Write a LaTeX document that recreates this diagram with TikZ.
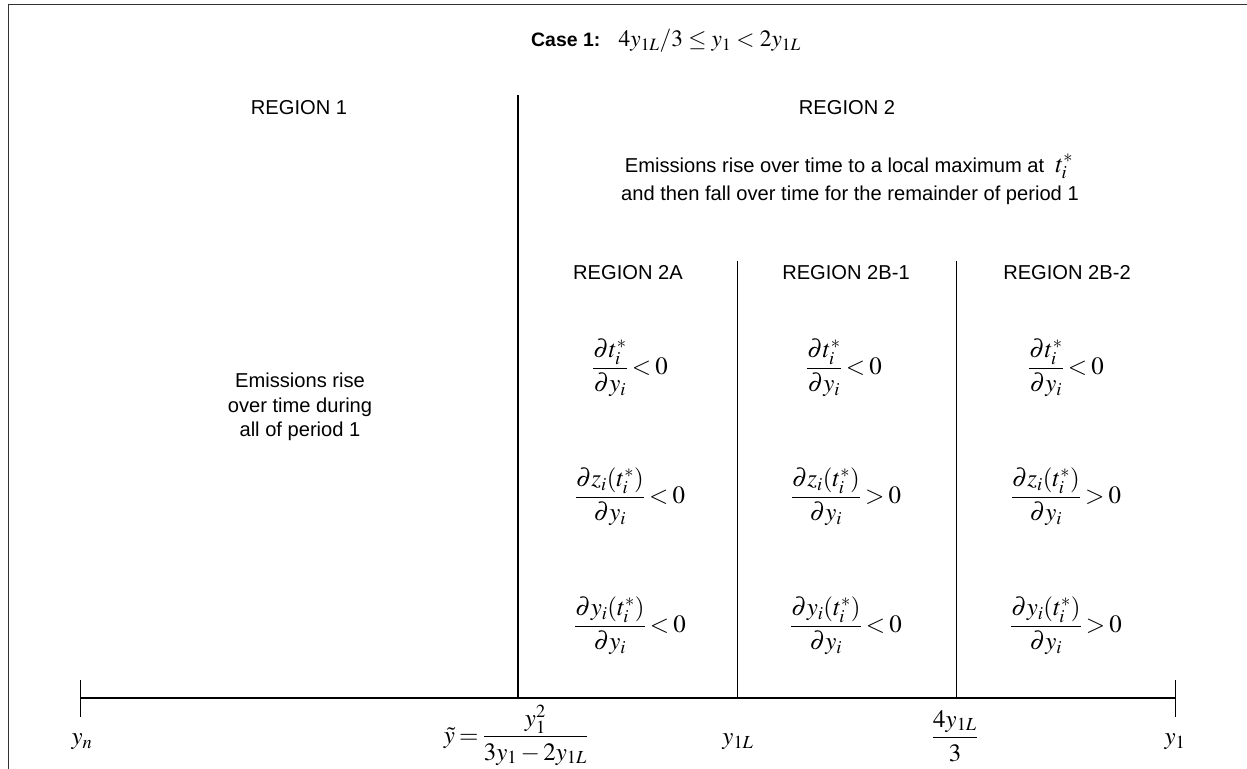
\documentclass[tikz,border=0pt]{standalone}
\usepackage{amsmath}
\usepackage{mathptmx}
\usepackage[no-math]{fontspec}
\setmainfont{Liberation Sans}
\newcommand\mfs{\fontsize{25}{30}\selectfont\thickmuskip=3mu plus 1mu}
\newcommand\tfs{\fontsize{23.5}{28}\selectfont}
\tikzset{
  txt/.style={font=\fontsize{20.2}{24.5}\selectfont, inner sep=0pt, align=center},
  mth/.style={font=\mfs, inner sep=0pt},
  frameline/.style={line width=1.6pt, draw=black!80},
  thickline/.style={line width=2pt},
  thinline/.style={line width=0.9pt},
}
\begin{document}
\begin{tikzpicture}[x=1bp,y=-1bp]
\useasboundingbox (0,0) rectangle (1247,769);
% frame
\coordinate (fbl) at (8.3,769);
\coordinate (ftl) at (8.3,4.7);
\coordinate (ftr) at (1247,4.7);
\draw[frameline] (fbl) -- (ftl) -- (ftr);
% title
\node[inner sep=0pt, font=\fontsize{19.5}{23}\selectfont\bfseries, anchor=base west] (case) at (531,47) {Case 1:};
\node[inner sep=0pt, font=\tfs, anchor=base west] (cond) at ([xshift=18bp]case.base east) {$4y_{1L}/3 \le y_1 < 2y_{1L}$};
% regions
\node[txt, anchor=base] (r1) at (299,115) {REGION 1};
\node[txt, anchor=base] (r2) at (847,115) {REGION 2};
\node[txt, anchor=base] (r2txta) at (849,172) {Emissions rise over time to a local maximum at~ {\mfs$t_i^*$}};
\node[txt, anchor=base] (r2txtb) at (850,200) {and then fall over time for the remainder of period 1};
\node[txt] (r1txt) at (300,407) {Emissions rise\\over time during\\all of period 1};
\node[txt, anchor=base] (r2a) at (628,279) {REGION 2A};
\node[txt, anchor=base] (r2b1) at (846,279) {REGION 2B-1};
\node[txt, anchor=base] (r2b2) at (1067,279) {REGION 2B-2};
% axis
\coordinate (axL) at (80,698);
\coordinate (axR) at (1175,698);
\coordinate (tLt) at (80,680);
\coordinate (tLb) at (80,717);
\coordinate (tRt) at (1175,680);
\coordinate (tRb) at (1175,717);
\draw[thickline] (axL) -- (axR);
\draw[thinline] (tLt) -- (tLb);
\draw[thinline] (tRt) -- (tRb);
\coordinate (v1t) at (518,95);
\coordinate (v1b) at (518,698);
\draw[thickline] (v1t) -- (v1b);
\coordinate (v2t) at (737,261);
\coordinate (v2b) at (737,698);
\coordinate (v3t) at (956,261);
\coordinate (v3b) at (956,698);
\draw[thinline] (v2t) -- (v2b);
\draw[thinline] (v3t) -- (v3b);
% derivatives
\node[mth] (a1) at (630,368) {$\dfrac{\partial t_i^{*}\rule{0pt}{19bp}}{\partial y_i} < 0$};
\node[mth] (b1) at (844,368) {$\dfrac{\partial t_i^{*}\rule{0pt}{19bp}}{\partial y_i} < 0$};
\node[mth] (c1) at (1066,368) {$\dfrac{\partial t_i^{*}\rule{0pt}{19bp}}{\partial y_i} < 0$};
\node[mth] (a2) at (630,497) {$\dfrac{\partial z_i(t_i^*)}{\partial y_i} < 0$};
\node[mth] (b2) at (846,497) {$\dfrac{\partial z_i(t_i^*)}{\partial y_i} > 0$};
\node[mth] (c2) at (1066,497) {$\dfrac{\partial z_i(t_i^*)}{\partial y_i} > 0$};
\node[mth] (a3) at (630,626) {$\dfrac{\partial y_i(t_i^*)}{\partial y_i} < 0$};
\node[mth] (b3) at (846,626) {$\dfrac{\partial y_i(t_i^*)}{\partial y_i} < 0$};
\node[mth] (c3) at (1066,626) {$\dfrac{\partial y_i(t_i^*)}{\partial y_i} > 0$};
% axis labels
\node[mth] (lyn) at (82,742) {$y_n$};
\node[mth] (lyt) at (516,735) {$\tilde{y} = \dfrac{y_1^2}{3y_1 - 2y_{1L}}$};
\node[mth] (ly1L) at (738,742) {$y_{1L}$};
\node[mth] (l43) at (955,736) {$\dfrac{4y_{1L}}{3}$};
\node[mth] (ly1) at (1175,742) {$y_1$};
\end{tikzpicture}
\end{document}
